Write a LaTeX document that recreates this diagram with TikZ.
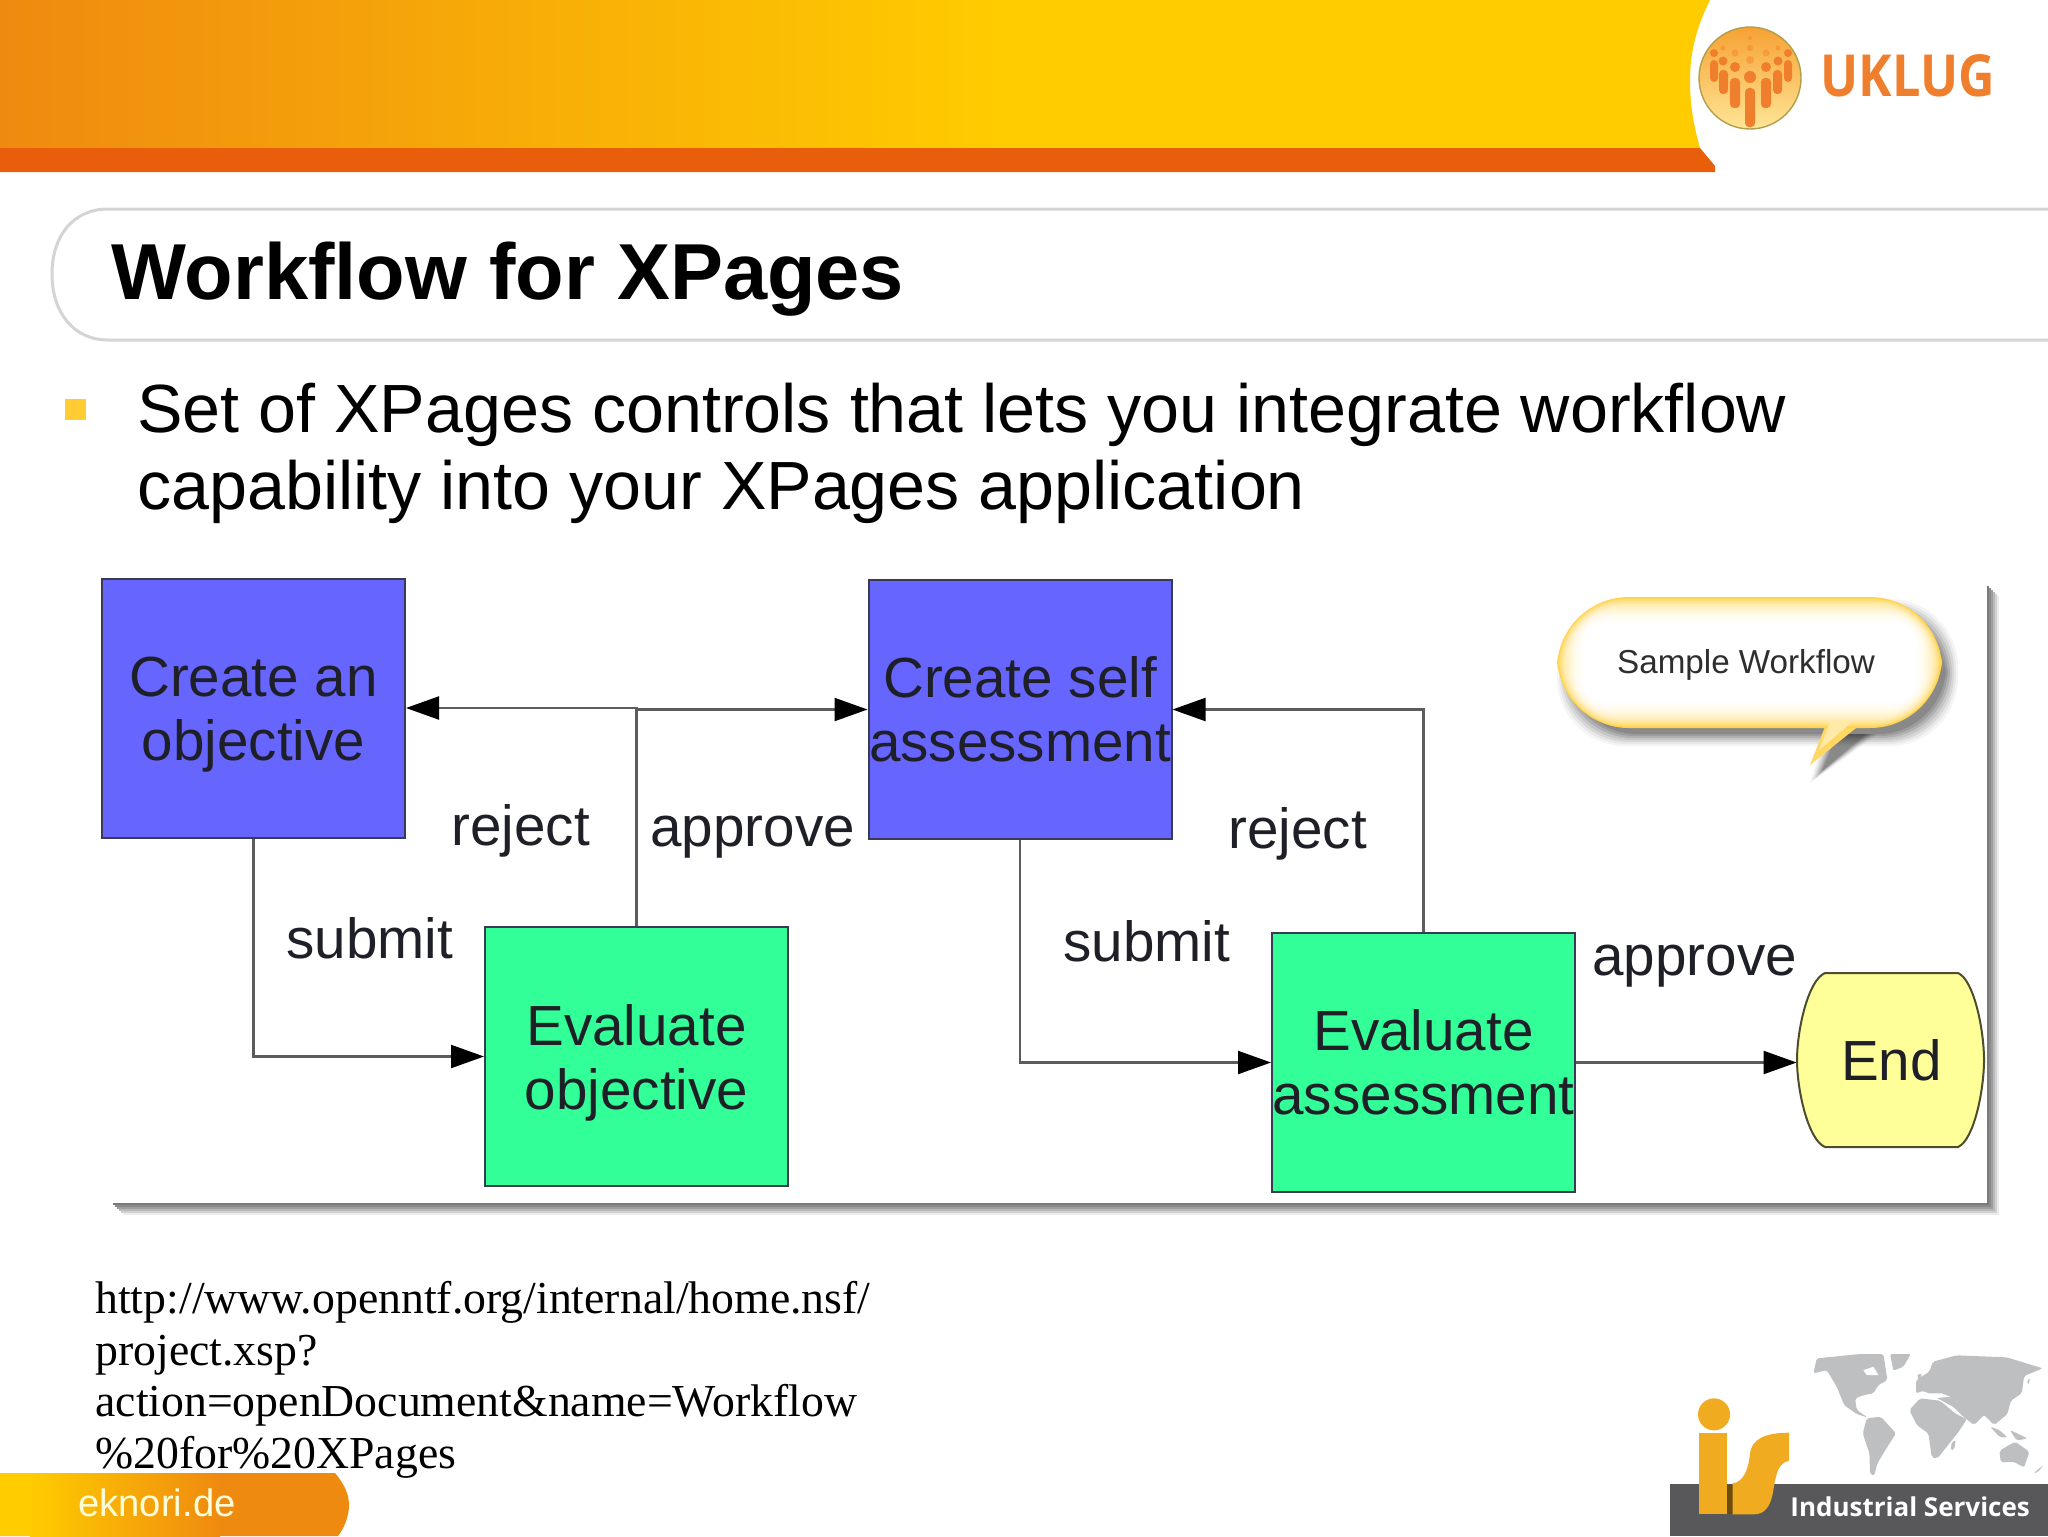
\documentclass[tikz,border=0pt]{standalone}
\usepackage{fontspec}
\setmainfont{Liberation Sans}
\newfontfamily\serifurl{Liberation Serif}
\newfontfamily\logofont{Open Sans}
\usetikzlibrary{arrows.meta}
\definecolor{hdrorange}{HTML}{EF8A10}
\definecolor{hdryellow}{HTML}{FFCC00}
\definecolor{hdrstrip}{HTML}{E85E0A}
\definecolor{boxblue}{HTML}{6666FF}
\definecolor{boxgreen}{HTML}{33FF99}
\definecolor{boxyellow}{HTML}{FFFF99}
\definecolor{boxline}{HTML}{3A3A55}
\definecolor{inktext}{HTML}{1F1F28}
\definecolor{conngray}{HTML}{5C5C5C}
\definecolor{titleline}{HTML}{D4D4D4}
\definecolor{bulletyellow}{HTML}{FFCC33}
\definecolor{glow}{HTML}{FFD452}
\definecolor{uklugorange}{HTML}{F07F2D}
\definecolor{isgold}{HTML}{F0AB20}
\definecolor{isband}{HTML}{58585A}
\definecolor{mapgray}{HTML}{BEBFC1}
\definecolor{logotop}{HTML}{F6A233}
\definecolor{logobottom}{HTML}{FFE596}
\tikzset{
  flowbox/.style={draw=boxline,line width=1pt,minimum width=151.5pt,minimum height=129.5pt,inner sep=0pt,
     align=center,text=inktext,font=\fontsize{28.3}{32}\selectfont},
  bluebox/.style={flowbox,fill=boxblue},
  greenbox/.style={flowbox,fill=boxgreen},
  conn/.style={draw=conngray,line width=1.1pt,-{Triangle[length=16.5pt,width=11.5pt,color=black]}},
  flowlabel/.style={anchor=base west,inner sep=0pt,text=inktext,font=\fontsize{28.3}{32}\selectfont},
  bodyline/.style={anchor=base west,inner sep=0pt,text=black,font=\fontsize{34.1}{38}\selectfont},
  urlline/.style={anchor=base west,inner sep=0pt,text=black,font=\serifurl\fontsize{22.87}{26}\selectfont},
  bar/.style={fill=uklugorange,rounded corners=2pt,draw=none},
  mapland/.style={fill=mapgray,draw=none,rounded corners=1pt},
}
\newcommand{\nodepth}[1]{\raisebox{0pt}[\height][0pt]{#1}}
\begin{document}
\begin{tikzpicture}[x=0.5pt,y=-0.5pt]
\useasboundingbox (0,0) rectangle (2048,1536);
\fill[white] (0,0) rectangle (2048,1536);
% header
\fill[hdryellow]
  (0,0) -- (1710,0) .. controls (1695,30) and (1690,55) .. (1690,80)
  .. controls (1690,110) and (1695,130) .. (1700,148) -- (0,148) -- cycle;
\shade[left color=hdrorange,right color=hdryellow] (0,0) rectangle (1000,148);
\fill[hdrstrip] (0,148) -- (1700,148) -- (1715,166) -- (1715,172) -- (0,172) -- cycle;
% UKLUG logo
\shade[top color=logotop,bottom color=logobottom,draw=gray!60!hdryellow,line width=0.7pt]
  (1750,78) circle (51);
\fill[uklugorange] (1750,77) circle (6) (1735,67) circle (5) (1766,67) circle (5)
  (1723,61) circle (4.5) (1778,61) circle (4.5) (1714,53) circle (4) (1788,53) circle (4);
\fill[uklugorange,opacity=.45] (1735,53) circle (3.5) (1750,60) circle (4) (1766,53) circle (3.5)
  (1750,48) circle (3) (1723,48) circle (2.5) (1778,48) circle (2.5) (1750,38) circle (2);
\fill[bar] (1745,88) rectangle (1755,127);
\fill[bar] (1730,78) rectangle (1740,108) (1761,78) rectangle (1771,108);
\fill[bar] (1719,70) rectangle (1728,94) (1773,70) rectangle (1782,94);
\fill[bar] (1710,60) rectangle (1718,82) (1784,60) rectangle (1792,82);
\node[anchor=base west,inner sep=0pt,text=uklugorange,font=\logofont\bfseries\fontsize{29}{32}\selectfont] (uklug) at (1820,97) {\scalebox{0.87}[1]{UKLUG}};
% title
\draw[titleline,line width=1.5pt] (2048,209) -- (108,209) .. controls (74,209) and (52,235) .. (52,274)
  .. controls (52,313) and (74,340) .. (108,340) -- (2048,340);
\node[anchor=base west,inner sep=0pt,text=black,font=\bfseries\fontsize{39.7}{44}\selectfont] (title) at (111,299) {Workflow for XPages};
% bullet text
\fill[bulletyellow] (65,399) rectangle (86,420);
\node[bodyline] (line1) at (137,432) {Set of XPages controls that lets you integrate workflow};
\node[bodyline] (line2) at (137,509) {capability into your XPages application};
% panel shadow
\foreach \d/\c in {12/8,10/18,8/28,6/38,4/46,2/52}{
  \fill[black!\c] (1987,{584+\d}) rectangle ({1987+\d},{1203+\d});
  \fill[black!\c] ({111+\d},1203) rectangle ({1987+\d},{1203+\d});
}
\fill[white] (1000,584) rectangle (1986,1202);
% callout
\begin{scope}[shift={(8,10)}]
  \foreach \g/\o in {8/.04,6/.05,4/.07,2/.08,0/.10,-2/.11,-4/.12}{
    \fill[black,opacity=\o,rounded corners=34] ({1557-\g},{597-\g}) rectangle ({1942+\g},{728+\g});
    \fill[black,opacity=\o] ({1825-\g},724) -- ({1810-\g},{765+\g}) -- ({1862+\g},724) -- cycle;
  }
\end{scope}
\fill[glow!90!white] (1826,724) -- (1810,765) -- (1861,724) -- cycle;
\foreach \i/\m in {0/100,2/78,4/62,6/50,8/40,10/32,12/25,14/19,16/14,18/10,20/7,22/4,24/2,26/0}{
  \fill[glow!\m!white,rounded corners={36-\i}] ({1557+\i},{597+\i}) rectangle ({1942-\i},{728-\i});
}
\fill[glow!50!white] (1830,722) -- (1819,750) -- (1852,722) -- cycle;
\node[anchor=base,inner sep=0pt,text=black!82,font=\fontsize{16.6}{18}\selectfont] (sample) at (1746,673) {Sample Workflow};
% flow
\node[bluebox] (co) at (253.5,708) {\vphantom{f}Create an\\\nodepth{objective}};
\node[bluebox] (cs) at (1020,709.5) {Create self\\assessment};
\node[greenbox] (eo) at (636.5,1056.5) {\vphantom{f}Evaluate\\\nodepth{objective}};
\node[greenbox] (ea) at (1423.5,1062.5) {Evaluate\\assessment};
\fill[boxyellow,draw=black!70!boxyellow,line width=1pt] (1825,973) -- (1958,973)
  .. controls (1974,980) and (1984,1030) .. (1984,1060)
  .. controls (1984,1090) and (1974,1140) .. (1958,1147) -- (1825,1147)
  .. controls (1808,1140) and (1797,1090) .. (1797,1060)
  .. controls (1797,1030) and (1808,980) .. (1825,973) -- cycle;
\node[minimum width=93.5pt,minimum height=87pt,inner sep=0pt,text=inktext,font=\fontsize{28.3}{32}\selectfont] (fin) at (1890.5,1060) {\hspace{1pt}End};
\draw[conn] (co.south) |- (eo.west);
\draw[conn] (eo.north) |- (co.east);
\draw[conn] (eo.north) |- (cs.west);
\draw[conn] (cs.south) |- (ea.west);
\draw[conn] (ea.north) |- (cs.east);
\draw[conn] (ea.east) -- (ea.east -| fin.west);
\node[flowlabel] (l1) at (451,845) {reject};
\node[flowlabel] (l2) at (650,846) {approve};
\node[flowlabel] (l3) at (1228,848) {reject};
\node[flowlabel] (l4) at (286,958) {submit};
\node[flowlabel] (l5) at (1063,961) {submit};
\node[flowlabel] (l6) at (1592,975) {approve};
% url
\node[urlline] (u1) at (95,1313) {http://www.openntf.org/internal/home.nsf/};
\node[urlline] (u2) at (95,1365) {project.xsp?};
\node[urlline] (u3) at (95,1416) {action=openDocument\&name=Workflow};
\node[urlline] (u4) at (95,1468) {\%20for\%20XPages};
% bottom-left tab
\fill[hdrorange]
  (0,1473) -- (335,1473) .. controls (345,1485) and (349,1495) .. (349,1505)
  .. controls (349,1515) and (345,1527) .. (338,1536) -- (0,1536) -- cycle;
\fill[hdryellow] (0,1473) rectangle (30,1536);
\shade[left color=hdryellow,right color=hdrorange] (30,1473) rectangle (220,1536);
\node[anchor=base west,inner sep=0pt,text=white!85!yellow,font=\fontsize{19.1}{21}\selectfont] (ek) at (78,1516) {eknori.de};
% world map
\begin{scope}[shift={(1640,1330)},x=0.1667pt,y=-0.1667pt]
\fill[mapland] (520,130)--(530,85)--(600,78)--(660,72)--(730,72)--(742,150)--(715,165)--(700,190)--(672,195)--(645,205)--(650,240)--(682,262)--(650,252)--(612,225)--(590,170)--(560,120)--cycle;
\fill[mapland] (750,72)--(812,72)--(790,110)--(760,122)--cycle;
\fill[mapland] (680,265)--(722,260)--(768,310)--(742,350)--(712,400)--(702,437)--(690,432)--(688,370)--(668,310)--cycle;
\fill[mapland] (808,240)--(840,205)--(900,212)--(945,250)--(980,268)--(952,310)--(928,340)--(892,385)--(875,382)--(865,310)--(830,285)--cycle;
\fill[mapland] (828,190)--(828,150)--(868,125)--(878,95)--(950,76)--(1100,82)--(1208,115)--(1152,138)--(1145,190)--(1112,212)--(1102,252)--(1062,285)--(1032,255)--(1002,285)--(972,262)--(942,232)--(880,198)--(850,182)--cycle;
\fill[mapland] (1078,362)--(1125,335)--(1168,365)--(1152,412)--(1120,395)--(1082,397)--cycle;
\fill[mapland] (935,335)--(947,330)--(942,360)--(932,360)--cycle;
\fill[mapland] (1050,290)--(1078,300)--(1102,322)--(1080,322)--cycle;
\fill[mapland] (1110,300)--(1162,325)--(1130,332)--cycle;
\fill[mapland] (1180,430)--(1210,405)--(1195,425)--cycle;
\fill[mapland] (1160,150)--(1170,145)--(1165,165)--cycle;
\fill[mapland] (830,135)--(845,130)--(840,155)--cycle;
\fill[white] (670,120)--(700,110)--(715,135)--(680,135)--cycle;
\fill[white] (850,190)--(905,190)--(930,200)--(880,205)--cycle;
% IS logo
\fill[isband] (90,462) rectangle (1224,618);
\fill[isgold] (222,253) circle (48);
\fill[isgold] (177,308) rectangle (262,553);
\fill[black!55!isgold] (262,465) rectangle (278,553);
\fill[isgold] (278,553) -- (278,460) .. controls (310,455) and (325,420) .. (330,370)
  .. controls (335,325) and (380,308) .. (447,308) -- (447,392)
  .. controls (415,398) and (408,430) .. (400,480)
  .. controls (392,530) and (375,553) .. (340,553) -- cycle;
\end{scope}
\node[anchor=base west,inner sep=0pt,text=white,font=\logofont\bfseries\fontsize{13}{15}\selectfont] (is) at (1790,1516) {Industrial Services};
\end{tikzpicture}
\end{document}
